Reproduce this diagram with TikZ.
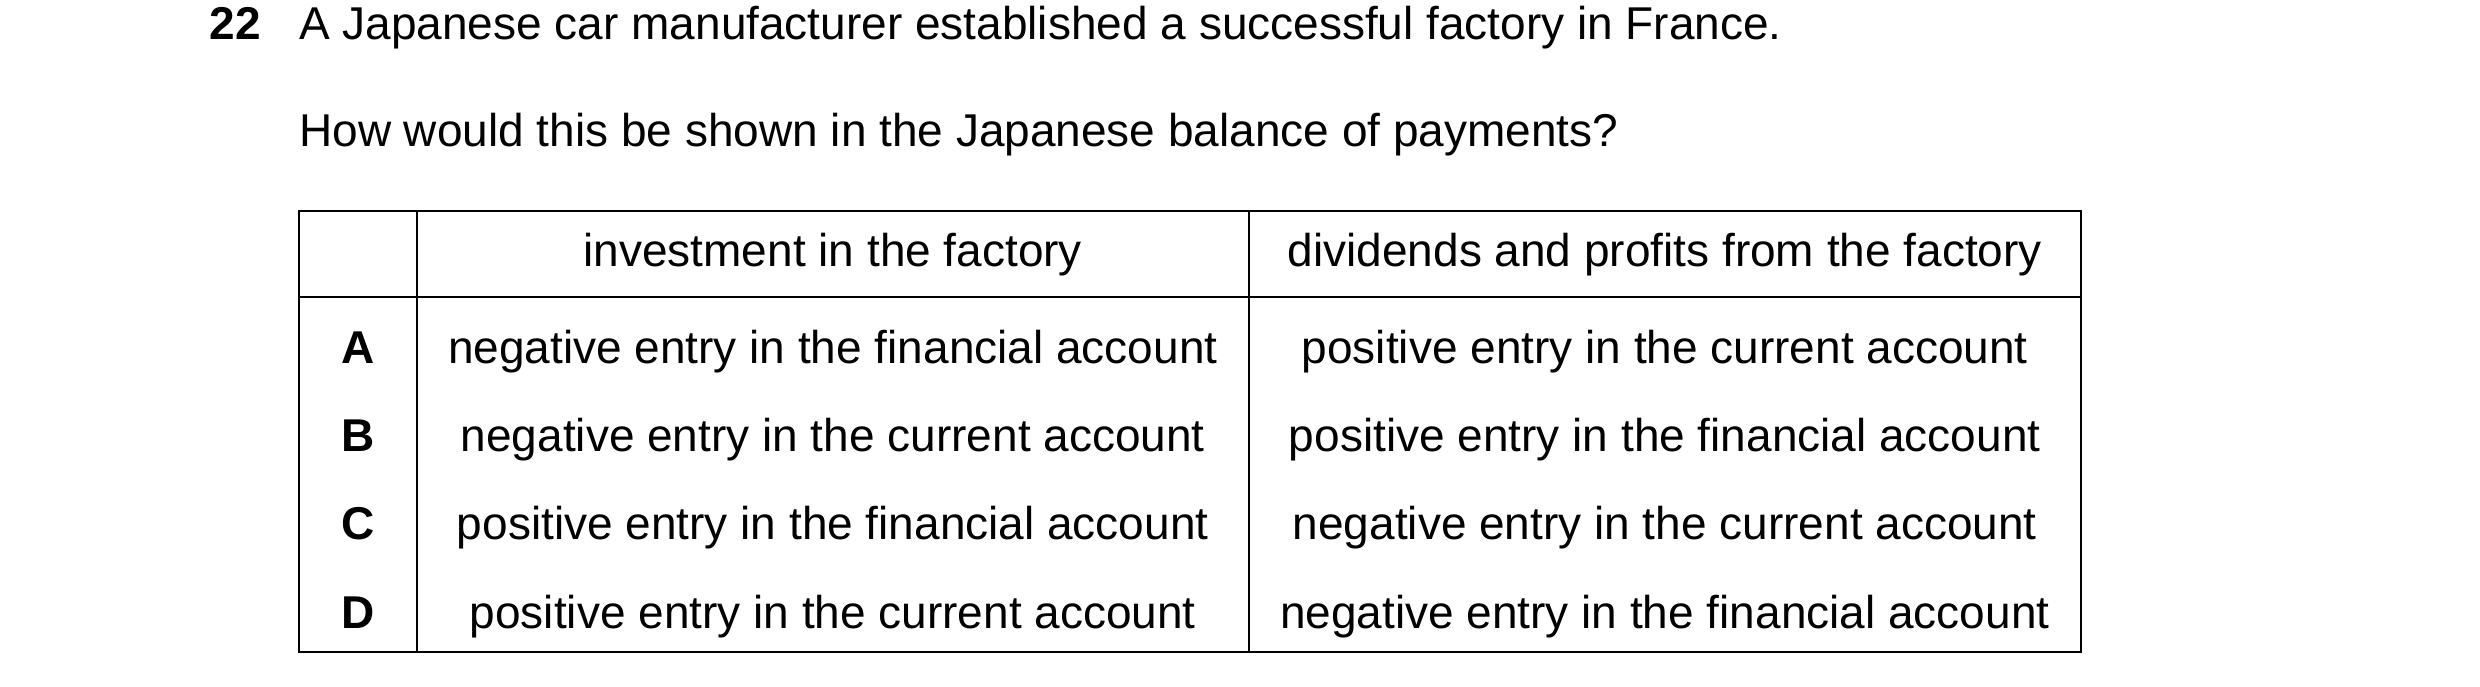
\documentclass[tikz,border=0pt]{standalone}
\usepackage{fontspec}
\setmainfont{Liberation Sans}
\begin{document}
\begin{tikzpicture}[x=0.5pt,y=-0.5pt,
  txt/.style={inner sep=0pt,font=\fontsize{14.4}{17}\selectfont},
  cell/.style={txt,anchor=center},
  lbl/.style={txt,font=\fontsize{14.4}{17}\selectfont\bfseries,anchor=center}]
\useasboundingbox (0,0) rectangle (1553,430);
\node[txt,anchor=base west,font=\fontsize{14.4}{17}\selectfont\bfseries] (num) at (131,25) {22};
\node[txt,anchor=base west] (q1) at (187,25) {A Japanese car manufacturer established a successful factory in France.};
\node[txt,anchor=base west] (q2) at (187,92) {How would this be shown in the Japanese balance of payments?};
\draw[line width=0.6pt] (187,132) rectangle (1303,408);
\draw[line width=0.6pt] (187,186) -- (1303,186);
\draw[line width=0.6pt] (261,132) -- (261,408);
\draw[line width=0.6pt] (782,132) -- (782,408);
\node[cell] (h1) at (521.5,160) {\strut investment in the factory};
\node[cell] (h2) at (1042.5,160) {\strut dividends and profits from the factory};
\node[lbl] (la) at (224,221) {\strut A};
\node[lbl] (lb) at (224,276) {\strut B};
\node[lbl] (lc) at (224,331) {\strut C};
\node[lbl] (ld) at (224,387) {\strut D};
\node[cell] (a1) at (521.5,221) {\strut negative entry in the financial account};
\node[cell] (a2) at (1042.5,221) {\strut positive entry in the current account};
\node[cell] (b1) at (521.5,276) {\strut negative entry in the current account};
\node[cell] (b2) at (1042.5,276) {\strut positive entry in the financial account};
\node[cell] (c1) at (521.5,331) {\strut positive entry in the financial account};
\node[cell] (c2) at (1042.5,331) {\strut negative entry in the current account};
\node[cell] (d1) at (521.5,387) {\strut positive entry in the current account};
\node[cell] (d2) at (1042.5,387) {\strut negative entry in the financial account};
\end{tikzpicture}
\end{document}
